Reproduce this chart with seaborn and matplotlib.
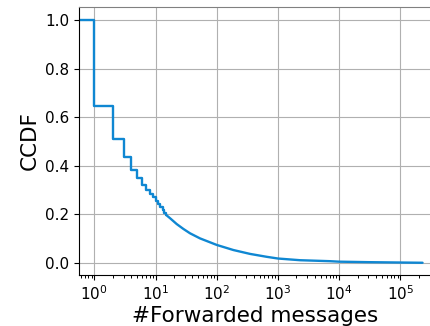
import matplotlib
matplotlib.use("Agg")
import matplotlib.pyplot as plt
from matplotlib.ticker import LogLocator, NullFormatter
import pandas as pd
import seaborn as sns

# CCDF of forwarded-message counts: integer steps for small counts
step_x = [0.56, 1, 2, 3, 4, 5, 6, 7, 8, 9, 10, 11, 12, 13, 14, 15]
step_ccdf = [1.0, 0.647, 0.511, 0.437, 0.384, 0.350, 0.321, 0.300, 0.283,
             0.270, 0.257, 0.243, 0.230, 0.218, 0.207, 0.197]

# long tail, where the steps merge into a smooth curve
tail_x = [15, 17.3, 22.2, 28.5, 36.6, 53.3, 100, 187, 350, 656, 1000,
          2300, 7100, 10000, 30000, 100000, 230000]
tail_ccdf = [0.197, 0.184, 0.160, 0.140, 0.122, 0.101, 0.074, 0.053, 0.037,
             0.025, 0.018, 0.011, 0.007, 0.005, 0.003, 0.0015, 0.0005]

xticks = [1, 10, 100, 1000, 10000, 100000]
yticks = [0.0, 0.2, 0.4, 0.6, 0.8, 1.0]
line_color = "#0f87d2"

sns.set_style("ticks")
plt.rcParams["font.family"] = ["DejaVu Sans"]
plt.rcParams["text.color"] = "black"
plt.rcParams["axes.labelcolor"] = "black"
plt.rcParams["xtick.color"] = "black"
plt.rcParams["ytick.color"] = "black"
plt.rcParams["xtick.minor.visible"] = True

fig = plt.figure(figsize=(4.30, 3.26), dpi=100)
ax = fig.add_axes([0.1837, 0.1564, 0.8213, 0.8221])

head = pd.DataFrame({"x": step_x, "ccdf": step_ccdf})
tail = pd.DataFrame({"x": tail_x, "ccdf": tail_ccdf})
sns.lineplot(data=head, x="x", y="ccdf", ax=ax, color=line_color,
             linewidth=1.7, drawstyle="steps-post", estimator=None, sort=False)
sns.lineplot(data=tail, x="x", y="ccdf", ax=ax, color=line_color,
             linewidth=1.7, estimator=None, sort=False)

ax.set_xscale("log")
ax.set_xlim(0.562, 3.3e5)
ax.set_ylim(-0.05, 1.055)
ax.set_xticks(xticks)
ax.xaxis.set_minor_locator(LogLocator(base=10, subs=range(2, 10), numticks=20))
ax.xaxis.set_minor_formatter(NullFormatter())
ax.set_yticks(yticks)
ax.set_yticklabels([f"{v:.1f}" for v in yticks])
ax.grid(True, which="major", color="#b0b0b0", linewidth=0.8)
ax.set_axisbelow(True)
ax.tick_params(axis="both", which="major", labelsize=11, length=3.5,
               width=0.8, color="black", labelcolor="black")
ax.tick_params(axis="x", which="minor", bottom=True, length=2.5, width=0.7,
               color="black")
for side in ("left", "bottom"):
    ax.spines[side].set_color("black")
    ax.spines[side].set_linewidth(0.8)
ax.spines["top"].set_color("#808080")
ax.spines["right"].set_visible(False)

ax.set_xlabel("#Forwarded messages", fontsize=15.5, labelpad=2, color="black")
ax.set_ylabel("CCDF", fontsize=15.5, labelpad=4, color="black")

fig.savefig("out.png", dpi=100)
